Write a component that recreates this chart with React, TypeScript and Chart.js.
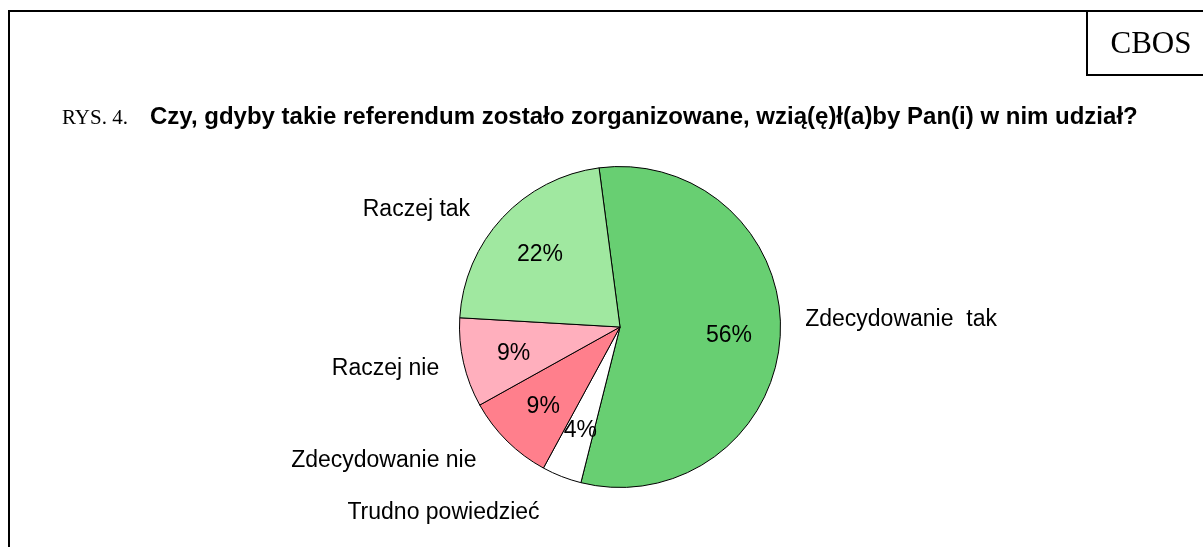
import { useEffect, useRef } from "react";
import { Chart, registerables } from "chart.js";

Chart.register(...registerables);

const categories = ["Zdecydowanie  tak", "Trudno powiedzieć", "Zdecydowanie nie", "Raczej nie", "Raczej tak"];
const values = [56, 4, 9, 9, 22];
const percentLabels = ["56%", "4%", "9%", "9%", "22%"];
const sliceColors = ["#68CF72", "#FFFFFF", "#FF7F8C", "#FFAFBD", "#A0E8A0"];
const labelNudges = [
  [0, -18],
  [-13, 13],
  [-13, 2],
  [0, 0],
  [-14, 9],
];

const titlePrefix = "RYS. 4.";
const titleText = "Czy, gdyby takie referendum zostało zorganizowane, wzią(ę)ł(a)by Pan(i) w nim udział?";
const brand = "CBOS";

const W = 1203;
const H = 547;

const decorPlugin = {
  id: "decor",
  beforeDraw(chart: any) {
    const ctx = chart.ctx;
    ctx.save();
    ctx.fillStyle = "#ffffff";
    ctx.fillRect(0, 0, W, H);
    ctx.strokeStyle = "#000";
    ctx.lineWidth = 2;
    ctx.beginPath();
    ctx.moveTo(9, H + 5);
    ctx.lineTo(9, 11);
    ctx.lineTo(W + 5, 11);
    ctx.stroke();
    ctx.beginPath();
    ctx.moveTo(1087, 11);
    ctx.lineTo(1087, 75);
    ctx.lineTo(W + 5, 75);
    ctx.stroke();
    ctx.fillStyle = "#000";
    ctx.textBaseline = "alphabetic";
    ctx.font = '31px "Liberation Serif", "Times New Roman", serif';
    ctx.textAlign = "center";
    ctx.fillText(brand, 1151, 53);
    ctx.textAlign = "left";
    ctx.font = '21px "Liberation Serif", "Times New Roman", serif';
    ctx.fillText(titlePrefix, 62, 124);
    ctx.font = 'bold 24px "Liberation Sans", Arial, sans-serif';
    ctx.fillText(titleText, 150, 124);
    ctx.restore();
  },
  afterDraw(chart: any) {
    const ctx = chart.ctx;
    const meta = chart.getDatasetMeta(0);
    ctx.save();
    ctx.fillStyle = "#000";
    ctx.font = '23px "Liberation Sans", Arial, sans-serif';
    ctx.textBaseline = "middle";
    meta.data.forEach((arc: any, i: number) => {
      const p = arc.getProps(["x", "y", "startAngle", "endAngle", "outerRadius"], true);
      const mid = (p.startAngle + p.endAngle) / 2;
      const ri = p.outerRadius * 0.68;
      ctx.textAlign = "center";
      ctx.fillText(percentLabels[i], p.x + ri * Math.cos(mid), p.y + ri * Math.sin(mid) + 2);
      const ro = p.outerRadius + 25;
      const ax = p.x + ro * Math.cos(mid) + labelNudges[i][0];
      const ay = p.y + ro * Math.sin(mid) + labelNudges[i][1];
      ctx.textAlign = Math.cos(mid) >= 0 ? "left" : "right";
      ctx.fillText(categories[i], ax, ay);
    });
    ctx.restore();
  },
};

export default function App() {
  const ref = useRef<HTMLCanvasElement>(null);
  useEffect(() => {
    if (!ref.current) return;
    const chart = new Chart(ref.current, {
      type: "pie",
      data: {
        labels: categories,
        datasets: [
          {
            data: values,
            backgroundColor: sliceColors,
            borderColor: "#000",
            borderWidth: 1,
          },
        ],
      },
      options: {
        animation: false,
        responsive: false,
        devicePixelRatio: 1,
        rotation: -7.5,
        layout: { padding: { left: 459, right: 422, top: 166, bottom: 59 } },
        plugins: {
          legend: { display: false },
          tooltip: { enabled: false },
        },
      },
      plugins: [decorPlugin],
    });
    return () => chart.destroy();
  }, []);
  return (
    <canvas
      ref={ref}
      width={W}
      height={H}
      style={{ position: "absolute", left: 0, top: 0, width: W, height: H, display: "block" }}
    />
  );
}
